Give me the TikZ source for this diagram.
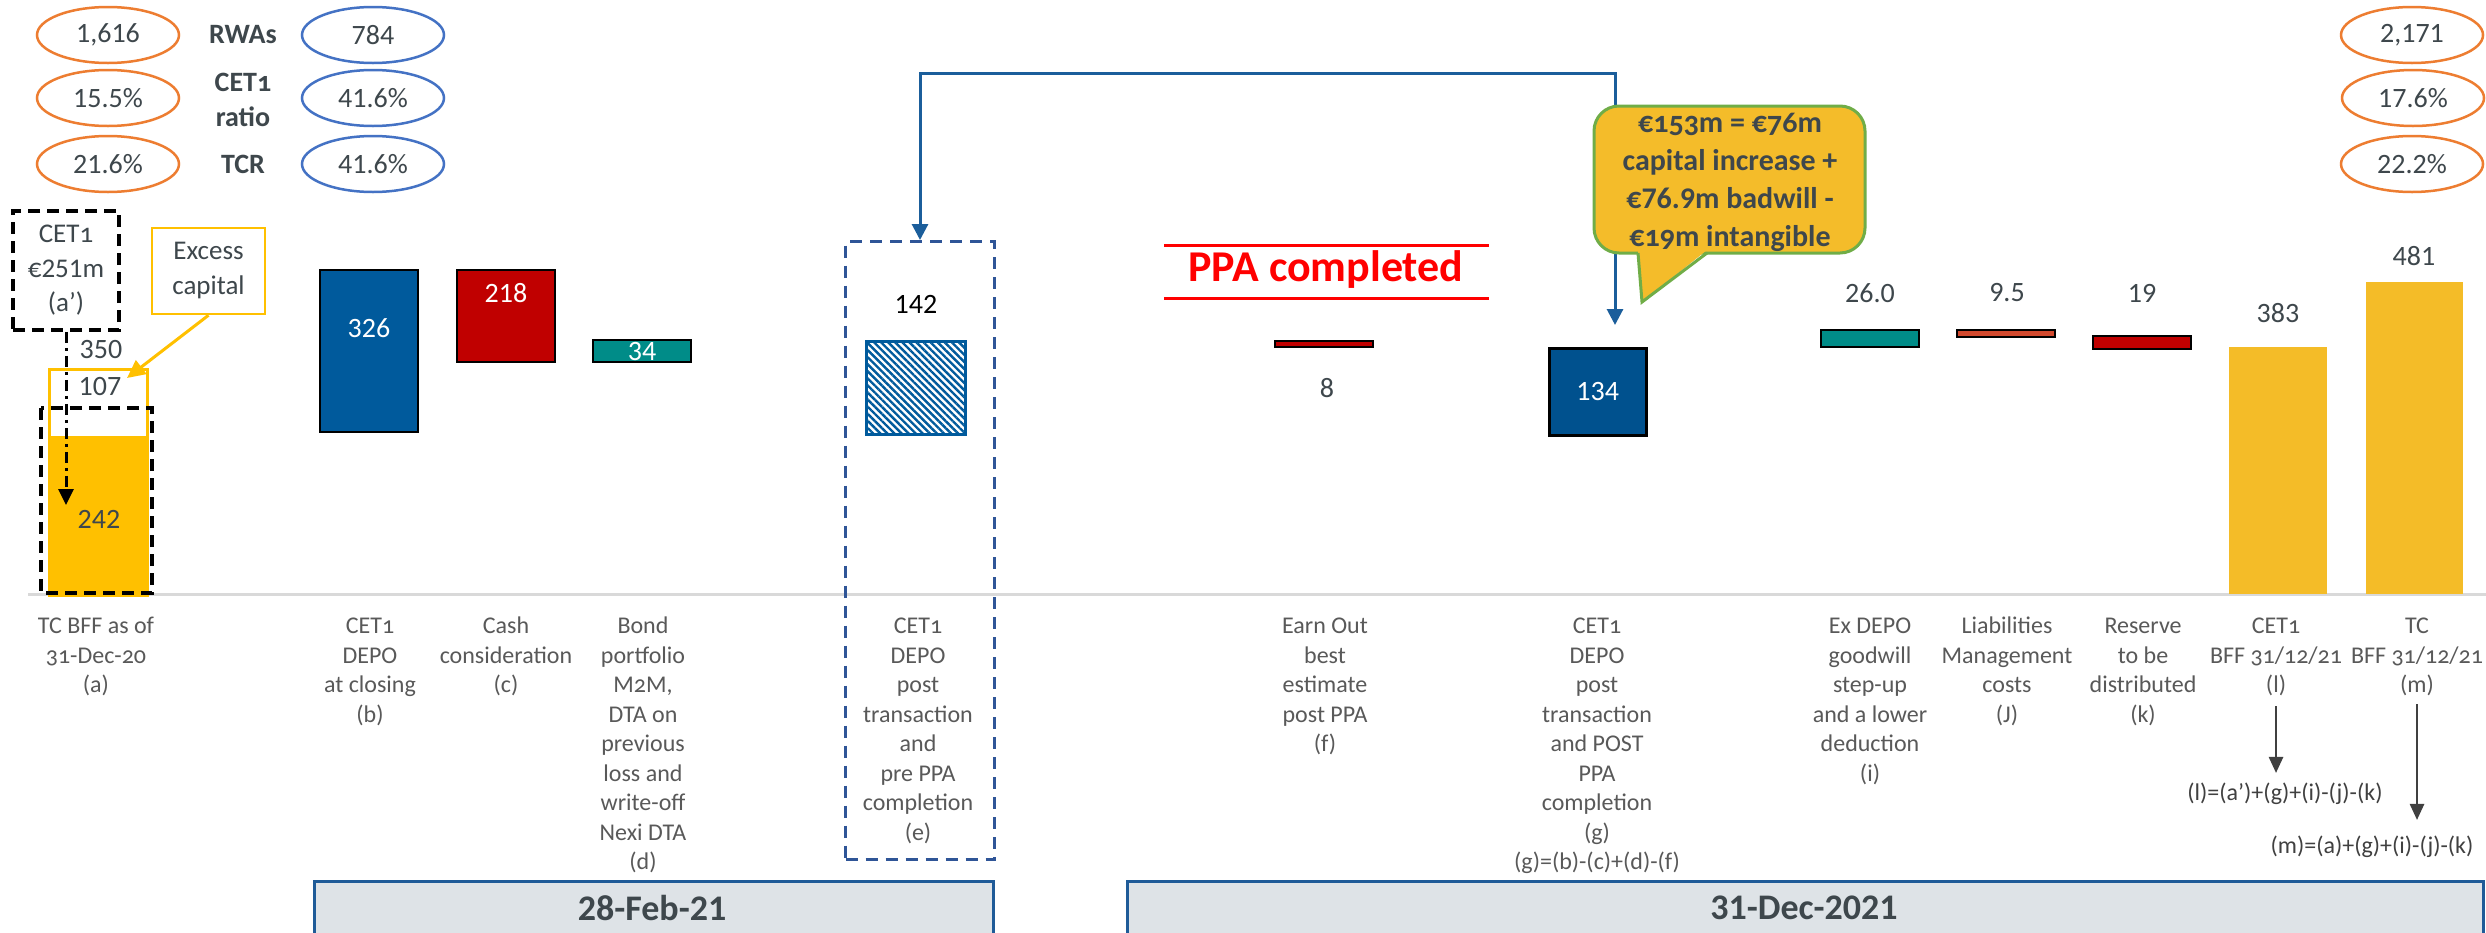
\documentclass[tikz,border=0pt]{standalone}
\usepackage{fontspec}
\setmainfont{Carlito}
\newfontfamily\osf[Numbers=OldStyle]{Carlito}
\usetikzlibrary{arrows.meta,shapes.geometric,patterns.meta,calc}
\definecolor{orng}{HTML}{ED7D31}
\definecolor{blueell}{HTML}{4472C4}
\definecolor{numgray}{HTML}{3E474C}
\definecolor{labgray}{HTML}{595959}
\definecolor{ylw}{HTML}{FFC000}
\definecolor{ylwb}{HTML}{F4BC28}
\definecolor{barblue}{HTML}{005A9C}
\definecolor{barblueb}{HTML}{00518E}
\definecolor{barred}{HTML}{C00000}
\definecolor{tealb}{HTML}{008C88}
\definecolor{liab}{HTML}{D2492E}
\definecolor{connblue}{HTML}{1B5E9B}
\definecolor{dashblue}{HTML}{2F5597}
\definecolor{boxfill}{HTML}{DEE3E7}
\definecolor{boxedge}{HTML}{1F5B98}
\definecolor{callfill}{HTML}{F4BC2A}
\definecolor{callgreen}{HTML}{70AD47}
\definecolor{axisgray}{HTML}{D9D9D9}
\definecolor{ppared}{HTML}{FF0000}
\definecolor{arrgray}{HTML}{404040}
\begin{document}
\begin{tikzpicture}[x=1pt,y=-1pt,
  ell/.style={ellipse,draw,line width=2.5pt,minimum width=142pt,minimum height=56pt,inner sep=0pt,text=numgray,font=\fontsize{28}{32}\selectfont},
  hdr/.style={inner sep=0pt,text=numgray,font=\fontsize{28}{35}\selectfont\bfseries,align=center},
  val/.style={inner sep=0pt,text=numgray,font=\fontsize{28}{32}\selectfont},
  bar/.style={draw=black,line width=2.5pt},
  lbl/.style={inner sep=0pt,text=labgray,font=\fontsize{24}{29.5}\selectfont,align=center,anchor=north},
  frm/.style={inner sep=0pt,text=arrgray,font=\fontsize{24}{29.5}\selectfont},
  blkdash/.style={draw=black,line width=3.5pt,dash pattern=on 12pt off 7pt},
  conn/.style={draw=connblue,line width=3pt,{Triangle[width=16pt,length=16pt]}-{Triangle[width=16pt,length=16pt]}},
  garrow/.style={draw=arrgray,line width=2.5pt,-{Triangle[width=14pt,length=16pt]}},
  datebox/.style={draw=boxedge,fill=boxfill,line width=3pt,anchor=north west,inner sep=0pt},
  datetxt/.style={inner sep=0pt,text=numgray,font=\fontsize{36}{40}\selectfont\bfseries}
]
\useasboundingbox (0,0) rectangle (2486,932);
\fill[white] (0,0) rectangle (2486,932);

% ---- ratio ellipses
\node[ell,draw=orng] (l1) at (108,35) {1,616};
\node[ell,draw=orng] (l2) at (108,98) {15.5\%};
\node[ell,draw=orng] (l3) at (108,164) {21.6\%};
\node[hdr] (h1) at (243,35) {RWAs};
\node[hdr] (h2) at (243,100) {{\osf CET1}\\ratio};
\node[hdr] (h3) at (243,164) {TCR};
\node[ell,draw=blueell] (b1) at (373,35) {784};
\node[ell,draw=blueell] (b2) at (373,98) {41.6\%};
\node[ell,draw=blueell] (b3) at (373,164) {41.6\%};
\node[ell,draw=orng] (r1) at (2412,35) {2,171};
\node[ell,draw=orng] (r2) at (2413,98) {17.6\%};
\node[ell,draw=orng] (r3) at (2412,164) {22.2\%};

% ---- axis
\draw[axisgray,line width=3pt] (28,594) -- (2486,594);

% ---- bar (a)
\fill[ylw] (48,436) rectangle (146,594);
\node[draw=ylw,line width=2.5pt,minimum width=98pt,minimum height=226pt,anchor=north west,inner sep=0pt] (abox) at (48,368) {};
\draw[blkdash] (41,408) rectangle (152,593);
\node[val] (v350) at (101,350) {350};
\node[val] (v107) at (100,387) {107};
\node[val] (v242) at (99,519) {242};
\node[blkdash,fill=white,minimum width=106pt,minimum height=119pt,inner sep=0pt,align=center,text=numgray,font=\fontsize{27}{34.5}\selectfont] (cetbox) at (66,270.5) {{\osf CET1}\\€251m\\(a’)};
\coordinate (cettip) at (66,505);
\draw[draw=black,line width=3pt,dash pattern=on 11pt off 5pt on 3pt off 5pt,-{Triangle[width=15pt,length=16pt]}] (cetbox.south) -- (cettip);
\node[draw=ylw,line width=2.5pt,fill=white,minimum width=113pt,minimum height=86pt,inner sep=0pt,align=center,text=numgray,font=\fontsize{27}{35}\selectfont] (exbox) at (208.5,271) {Excess\\capital};
\coordinate (extip) at (127,378);
\draw[draw=ylw,line width=3pt,-{Triangle[width=17pt,length=18pt]}] (exbox.south) -- (extip);

% ---- bars (b) (c) (d)
\path[bar,fill=barblue] (320,270) rectangle (418,432);
\node[val,text=white] (v326) at (369,328) {326};
\path[bar,fill=barred] (457,270) rectangle (555,362);
\node[val,text=white] (v218) at (506,293) {218};
\path[bar,fill=tealb] (593,340) rectangle (691,362);
\node[val,text=white] (v34) at (642,352) {34};

% ---- (e)
\node[draw=dashblue,line width=3pt,dash pattern=on 12pt off 8pt,minimum width=149pt,minimum height=618pt,anchor=north west,inner sep=0pt] (ebox) at (844,240) {};
\path[pattern={Lines[angle=-45,distance=5pt,line width=2.4pt]},pattern color=barblue,draw=barblue,line width=3pt] (866,341) rectangle (965,434);
\node[val,text=black] (v142) at (916,304) {142};

% ---- PPA completed
\draw[ppared,line width=3pt] (1164,245) -- (1489,245);
\draw[ppared,line width=3pt] (1164,298) -- (1489,298);
\node[inner sep=0pt,text=ppared,font=\fontsize{44}{50}\selectfont\bfseries] (ppa) at (1326,270) {PPA completed};

% ---- (f)
\path[bar,fill=barred] (1275,341) rectangle (1373,347);
\node[val] (v8) at (1327,388) {8};

% ---- (g)
\node[bar,fill=barblueb,minimum width=97pt,minimum height=87pt,anchor=north west,inner sep=0pt] (gbar) at (1548,347) {};
\node[val,text=white] (v134) at (gbar.center) {134};
\coordinate (gtip) at (1615,325);
\draw[conn] (ebox.north) -- (ebox.north |- 0,73) -| (gtip);

% ---- callout
\draw[callgreen,fill=callfill,line width=3pt,rounded corners=25pt] (1594,106) rectangle (1865,253);
\fill[callfill] (1638,250) -- (1707,250) -- (1642,302) -- cycle;
\draw[callgreen,line width=3pt,line join=miter] (1638,253) -- (1642,302) -- (1707,253);
\node[inner sep=0pt,align=center,text=numgray,font=\fontsize{30}{38}\selectfont\bfseries] (callout) at (1730,182) {{\osf €153m = €76m}\\capital increase +\\€76.9m badwill -\\{\osf €19m} intangible};

% ---- (i) (j) (k)
\path[bar,fill=tealb] (1821,330) rectangle (1919,347);
\node[val] (v26) at (1870,293) {26.0};
\path[bar,fill=liab] (1957,330) rectangle (2055,337);
\node[val] (v95) at (2007,293) {9.5};
\path[bar,fill=barred] (2093,336) rectangle (2191,349);
\node[val] (v19) at (2142,293) {19};

% ---- (l) (m)
\fill[ylwb] (2229,347) rectangle (2327,594);
\node[val] (v383) at (2278,313) {383};
\fill[ylwb] (2366,282) rectangle (2463,594);
\node[val] (v481) at (2414,256) {481};

% ---- labels
\node[lbl] (la) at (96,613) {\strut TC BFF as of\\{\osf 31-Dec-20}\\(a)};
\node[lbl] (lb) at (370,613) {\strut{\osf CET1}\\DEPO\\at closing\\(b)};
\node[lbl] (lc) at (506,613) {\strut Cash\\consideration\\(c)};
\node[lbl] (ld) at (643,613) {\strut Bond\\portfolio\\{\osf M2M},\\DTA on\\previous\\loss and\\write-off\\Nexi DTA\\(d)};
\node[lbl] (le) at (918,613) {\strut{\osf CET1}\\DEPO\\post\\transaction\\and\\pre PPA\\completion\\(e)};
\node[lbl] (lf) at (1325,613) {\strut Earn Out\\best\\estimate\\post PPA\\(f)};
\node[lbl] (lg) at (1597,613) {\strut{\osf CET1}\\DEPO\\post\\transaction\\and POST\\PPA\\completion\\(g)\\(g)=(b)-(c)+(d)-(f)};
\node[lbl] (li) at (1870,613) {\strut Ex DEPO\\goodwill\\step-up\\and a lower\\deduction\\(i)};
\node[lbl] (lj) at (2007,613) {\strut Liabilities\\Management\\costs\\(J)};
\node[lbl] (lk) at (2143,613) {\strut Reserve\\to be\\distributed\\(k)};
\node[lbl] (ll) at (2276,613) {\strut{\osf CET1}\\BFF {\osf 31/12/21}\\(l)};
\node[lbl] (lm) at (2417,613) {\strut TC\\BFF {\osf 31/12/21}\\(m)};

% ---- formulas
\node[frm] (fl) at (2285,794) {(l)=(a’)+(g)+(i)-(j)-(k)};
\node[frm] (fm) at (2372,847) {(m)=(a)+(g)+(i)-(j)-(k)};
\draw[garrow,shorten <=10pt,shorten >=10pt] (ll.south) -- (ll.south |- fl.north);
\draw[garrow,shorten <=8pt,shorten >=16pt] (lm.south) -- (lm.south |- fm.north);

% ---- date boxes
\node[datebox,minimum width=679pt,minimum height=70pt] (d1) at (313,880) {};
\node[datetxt] (t1) at (652,908) {28-Feb-21};
\node[datebox,minimum width=1356pt,minimum height=70pt] (d2) at (1126,880) {};
\node[datetxt] (t2) at (1804,908) {31-Dec-2021};
\end{tikzpicture}
\end{document}
